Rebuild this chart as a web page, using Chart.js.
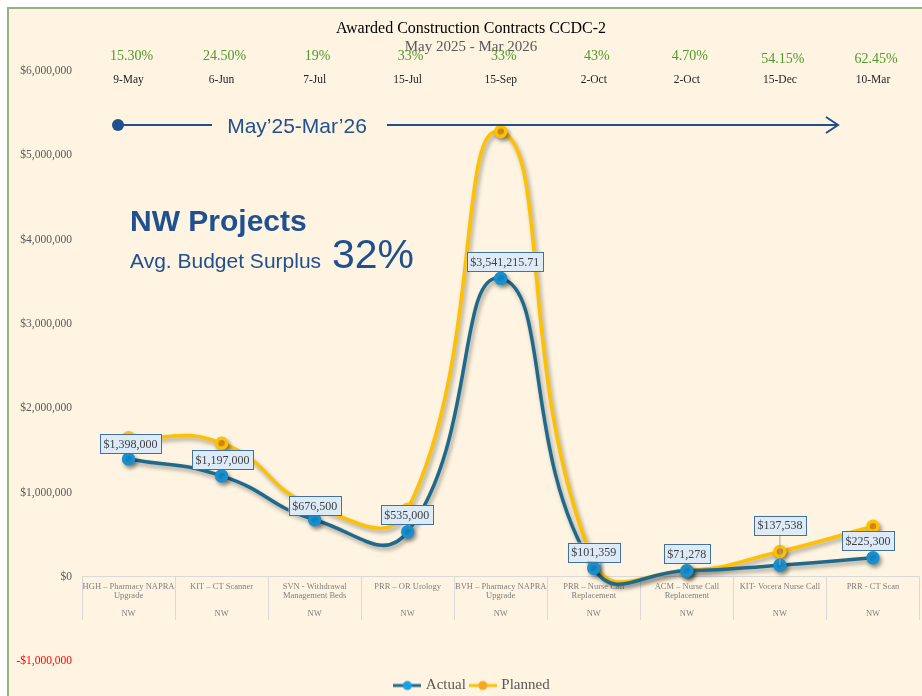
<!DOCTYPE html>
<html lang="en">
<head>
  <meta charset="UTF-8">
  <title>Awarded Construction Contracts CCDC-2</title>
  <script src="https://cdn.jsdelivr.net/npm/chart.js"></script>
  <style>
    html, body { margin: 0; padding: 0; background: #fff; overflow: hidden; }
    #wrap { width: 922px; height: 696px; overflow: hidden; }
  </style>
</head>
<body>
  <div id="wrap"><canvas id="grafico" width="928" height="696"></canvas></div>

  <script>
    // datos
    const proyectos = [
      ["HGH – Pharmacy NAPRA", "Upgrade"],
      ["KIT – CT Scanner", ""],
      ["SVN - Withdrawal", "Management Beds"],
      ["PRR – OR Urology", ""],
      ["BVH – Pharmacy NAPRA", "Upgrade"],
      ["PRR – Nurse Call", "Replacement"],
      ["ACM – Nurse Call", "Replacement"],
      ["KIT- Vocera Nurse Call", ""],
      ["PRR - CT Scan", ""]
    ];
    const region = ["NW", "NW", "NW", "NW", "NW", "NW", "NW", "NW", "NW"];
    const actual = [1398000, 1197000, 676500, 535000, 3541215.71, 101359, 71278, 137538, 225300];
    const planned = [1650000, 1585000, 835000, 800000, 5285000, 178000, 75000, 300000, 600000];
    const surplus = ["15.30%", "24.50%", "19%", "33%", "33%", "43%", "4.70%", "54.15%", "62.45%"];
    const fechas = ["9-May", "6-Jun", "7-Jul", "15-Jul", "15-Sep", "2-Oct", "2-Oct", "15-Dec", "10-Mar"];
    const yTicks = [-1000000, 0, 1000000, 2000000, 3000000, 4000000, 5000000, 6000000];

    const serif = "'Liberation Serif', 'Times New Roman', serif";
    const sans = "'Liberation Sans', Arial, sans-serif";
    const azul = "#21508f";

    function money(v) {
      const s = Math.abs(v).toLocaleString("en-US", { minimumFractionDigits: v % 1 ? 2 : 0, maximumFractionDigits: 2 });
      return (v < 0 ? "-$" : "$") + s;
    }

    // marcadores de leyenda (linea + punto)
    function marcador(linea, relleno) {
      const c = document.createElement("canvas");
      c.width = 28; c.height = 12;
      const g = c.getContext("2d");
      g.strokeStyle = linea; g.lineWidth = 3;
      g.beginPath(); g.moveTo(0, 6); g.lineTo(28, 6); g.stroke();
      g.fillStyle = relleno;
      g.beginPath(); g.arc(14, 6, 4.5, 0, Math.PI * 2); g.fill();
      return c;
    }
    const marcas = [marcador("#1f6a8c", "#1aa0e6"), marcador("#ffc000", "#f5a623")];

    // fondo, cabecera, etiquetas y sombras
    const adornos = {
      id: "adornos",
      afterLayout(chart) {
        // mover leyenda y titulos como en el original
        const lg = chart.legend;
        lg.top += 11; lg.bottom += 11;
        lg.left += 9; lg.right += 9;
        chart.boxes.forEach(b => {
          if (b !== lg && b.options && typeof b.options.text === "string") {
            b.left += 7; b.right += 7;
          }
        });
      },
      beforeDraw(chart) {
        const ctx = chart.ctx;
        ctx.save();
        ctx.fillStyle = "#ffffff";
        ctx.fillRect(0, 0, chart.width, chart.height);
        ctx.fillStyle = "#fef4e1";
        ctx.fillRect(8, 8, chart.width - 8, chart.height - 8);
        ctx.strokeStyle = "#93b47c";
        ctx.lineWidth = 2;
        ctx.beginPath();
        ctx.moveTo(7, 8); ctx.lineTo(chart.width, 8);
        ctx.moveTo(8, 7); ctx.lineTo(8, chart.height);
        ctx.stroke();
        ctx.restore();
      },
      beforeDatasetsDraw(chart) {
        const ctx = chart.ctx;
        ctx.save();
        ctx.shadowColor = "rgba(0,0,0,0.35)";
        ctx.shadowBlur = 4;
        ctx.shadowOffsetX = 2;
        ctx.shadowOffsetY = 3;
      },
      afterDatasetsDraw(chart) {
        const ctx = chart.ctx;
        ctx.restore();
        const x = chart.scales.x;

        // porcentajes y fechas
        ctx.save();
        ctx.textAlign = "center";
        ctx.textBaseline = "middle";
        surplus.forEach((p, i) => {
          const px = x.getPixelForValue(i);
          ctx.font = "14px " + serif;
          ctx.fillStyle = "#4e9a2e";
          ctx.fillText(p, px + 3, 56 + (i > 6 ? 3 : 0));
          ctx.font = "11.5px " + serif;
          ctx.fillStyle = "#262626";
          ctx.fillText(fechas[i], px, 80);
        });

        // flecha de periodo
        ctx.strokeStyle = azul;
        ctx.fillStyle = azul;
        ctx.lineWidth = 2;
        ctx.beginPath(); ctx.arc(118, 125, 6, 0, Math.PI * 2); ctx.fill();
        ctx.beginPath();
        ctx.moveTo(118, 125); ctx.lineTo(212, 125);
        ctx.moveTo(387, 125); ctx.lineTo(838, 125);
        ctx.moveTo(826, 117); ctx.lineTo(838, 125); ctx.lineTo(826, 133);
        ctx.stroke();
        ctx.font = "21px " + sans;
        ctx.textBaseline = "alphabetic";
        ctx.fillText("May’25-Mar’26", 297, 133);

        // bloque NW Projects
        ctx.textAlign = "left";
        ctx.font = "bold 30px " + sans;
        ctx.fillText("NW Projects", 130, 231);
        ctx.font = "21px " + sans;
        ctx.fillText("Avg. Budget Surplus", 130, 268);
        ctx.font = "41px " + sans;
        ctx.fillText("32%", 332, 268);

        // etiquetas de datos (serie Actual)
        const meta = chart.getDatasetMeta(0);
        const subir = [15, 16, 14, 17, 17, 16, 17, 40, 17];
        const correr = [2, 1, 0, -1, 4, 0, 0, 0, -5];
        ctx.font = "12px " + serif;
        ctx.textAlign = "center";
        ctx.textBaseline = "middle";
        meta.data.forEach((pt, i) => {
          const txt = money(actual[i]);
          const w = ctx.measureText(txt).width + 7;
          const h = 19;
          const cx = pt.x + correr[i];
          const cy = pt.y - subir[i];
          if (subir[i] > 25) {
            ctx.strokeStyle = "#a6a6a6";
            ctx.lineWidth = 1;
            ctx.beginPath(); ctx.moveTo(pt.x, cy + h / 2); ctx.lineTo(pt.x, pt.y); ctx.stroke();
          }
          ctx.fillStyle = "#dcebf7";
          ctx.fillRect(cx - w / 2, cy - h / 2, w, h);
          ctx.strokeStyle = "#41719c";
          ctx.lineWidth = 1;
          ctx.strokeRect(Math.round(cx - w / 2) + 0.5, Math.round(cy - h / 2) + 0.5, Math.round(w), h);
          ctx.fillStyle = "#404040";
          ctx.fillText(txt, cx, cy + 1);
        });
        ctx.restore();
      }
    };

    const ctx = document.getElementById("grafico").getContext("2d");
    new Chart(ctx, {
      type: "line",
      data: {
        labels: proyectos.map((p, i) => [p[0], p[1], "", region[i]]),
        datasets: [
          {
            label: "Actual",
            data: actual,
            borderColor: "#1f6a8c",
            borderWidth: 3.5,
            backgroundColor: "#1aa0e6",
            pointBackgroundColor: "#1aa0e6",
            pointBorderColor: "#1890d0",
            pointRadius: 5,
            tension: 0.5
          },
          {
            label: "Planned",
            data: planned,
            borderColor: "#ffc000",
            borderWidth: 3.5,
            backgroundColor: "#f5a623",
            pointBackgroundColor: "#f5a623",
            pointBorderColor: "#ffc000",
            pointRadius: 5,
            tension: 0.5
          }
        ]
      },
      options: {
        responsive: false,
        animation: false,
        layout: { padding: { left: 0, right: 0, top: 0, bottom: 4 } },
        scales: {
          x: {
            type: "category",
            position: { y: 0 },
            offset: true,
            grid: { offset: true, drawOnChartArea: false, drawTicks: true, tickLength: 43, color: "#d9d9d9" },
            border: { display: true, color: "#d9d9d9" },
            ticks: {
              autoSkip: false,
              maxRotation: 0,
              padding: -37,
              color: "#7f7f7f",
              font: { family: serif, size: 8.5, lineHeight: 1.05 }
            }
          },
          y: {
            min: -1000000,
            max: 6000000,
            afterFit(s) { s.width = 82; },
            afterBuildTicks(s) { s.ticks = yTicks.map(v => ({ value: v })); },
            grid: { display: false, drawTicks: false },
            border: { display: false },
            ticks: {
              padding: 10,
              callback: v => money(v),
              color: c => (c.tick && c.tick.value < 0 ? "#ff0000" : "#595959"),
              font: { family: serif, size: 11.5 }
            }
          }
        },
        plugins: {
          title: {
            display: true,
            text: "Awarded Construction Contracts CCDC-2",
            color: "#000000",
            font: { family: serif, size: 16, weight: "normal", lineHeight: 1.2 },
            padding: { top: 19, bottom: 0 }
          },
          subtitle: {
            display: true,
            text: "May 2025 - Mar 2026",
            color: "#595959",
            font: { family: serif, size: 15, lineHeight: 1.2 },
            padding: { top: 0, bottom: 15 }
          },
          legend: {
            position: "bottom",
            labels: {
              usePointStyle: true,
              pointStyleWidth: 22,
              padding: 6,
              color: "#595959",
              font: { family: serif, size: 15 },
              generateLabels(chart) {
                const items = Chart.defaults.plugins.legend.labels.generateLabels(chart);
                items.forEach((it, i) => { it.pointStyle = marcas[i]; });
                return items;
              }
            }
          },
          tooltip: { enabled: false }
        }
      },
      plugins: [adornos]
    });
  </script>
</body>
</html>
